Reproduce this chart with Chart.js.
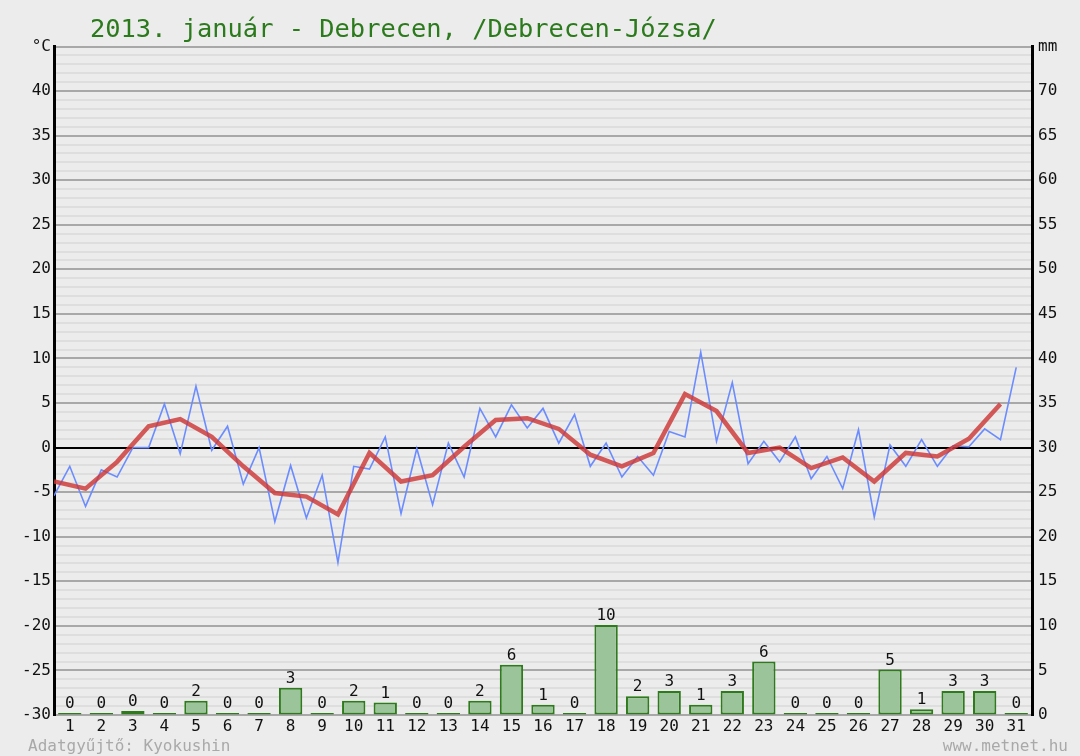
<!DOCTYPE html>
<html>
<head>
<meta charset="utf-8">
<script src="https://cdn.jsdelivr.net/npm/chart.js@4/dist/chart.umd.min.js"></script>
<style>
  html, body { margin:0; padding:0; background:#ececec; }
  #wrap { width:1080px; height:756px; }
</style>
</head>
<body>
<div id="wrap"><canvas id="chart" width="1080" height="756"></canvas></div>
<script>
// ------------- DATA -------------
const TITLE = "2013. január - Debrecen, /Debrecen-Józsa/";
const FOOTER_LEFT = "Adatgyűjtő: Kyokushin";
const FOOTER_RIGHT = "www.metnet.hu";

const dayLabels = ['1','2','3','4','5','6','7','8','9','10','11','12','13','14','15','16',
  '17','18','19','20','21','22','23','24','25','26','27','28','29','30','31'];

// two readings per day (°C)
const tempHalfDay = [-5.4, -2.1, -6.6, -2.5, -3.3, 0.0, 0.0, 4.9, -0.7, 6.9,
  -0.3, 2.4, -4.1, 0.0, -8.3, -2.0, -7.9, -3.1, -12.9, -2.1,
  -2.4, 1.2, -7.4, -0.1, -6.4, 0.5, -3.3, 4.4, 1.2, 4.8,
  2.2, 4.4, 0.5, 3.7, -2.1, 0.5, -3.3, -1.0, -3.1, 1.8,
  1.2, 10.7, 0.7, 7.3, -1.8, 0.7, -1.6, 1.2, -3.5, -1.0,
  -4.6, 2.0, -7.8, 0.3, -2.1, 0.9, -2.1, 0.2, 0.1, 2.1,
  0.9, 9.0];

// daily mean (°C)
const tempMean = [-3.8, -4.6, -1.6, 2.4, 3.2, 1.2, -2.1, -5.1, -5.5, -7.5,
  -0.6, -3.8, -3.1, 0.1, 3.1, 3.3, 2.1, -0.8, -2.1, -0.6,
  6.0, 4.1, -0.6, 0.0, -2.3, -1.1, -3.8, -0.6, -1.0, 1.0, 4.9];

// daily precipitation (mm)
const precip = [0, 0, 0.45, 0, 1.6, 0, 0, 3.05, 0, 1.6, 1.4, 0, 0, 1.6, 5.65, 1.15,
  0, 10.1, 2.1, 2.7, 1.15, 2.7, 6.0, 0, 0, 0, 5.1, 0.65, 2.7, 2.7, 0];

// ------------- STYLE -------------
const MONO = '"DejaVu Sans Mono", "Liberation Mono", monospace';
const BG = '#ececec';

// background + title + footer
const decorPlugin = {
  id: 'decor',
  beforeDraw(chart){
    const ctx = chart.ctx;
    ctx.save();
    ctx.fillStyle = BG;
    ctx.fillRect(0, 0, chart.width, chart.height);
    ctx.restore();
  },
  afterDraw(chart){
    const ctx = chart.ctx;
    ctx.save();
    ctx.textBaseline = 'alphabetic';
    ctx.font = '25.4px ' + MONO;
    ctx.fillStyle = '#2b7a1c';
    ctx.textAlign = 'left';
    ctx.fillText(TITLE, 90, 37);
    ctx.font = '16px ' + MONO;
    ctx.fillStyle = '#a9a9a9';
    ctx.fillText(FOOTER_LEFT, 28, 751);
    ctx.textAlign = 'right';
    ctx.fillText(FOOTER_RIGHT, 1068, 751);
    ctx.restore();
  }
};

// value labels above precipitation bars
const barLabels = {
  id: 'barLabels',
  afterDatasetsDraw(chart){
    const ctx = chart.ctx;
    const meta = chart.getDatasetMeta(0);
    ctx.save();
    ctx.font = '16px ' + MONO;
    ctx.fillStyle = '#111';
    ctx.textAlign = 'center';
    ctx.textBaseline = 'alphabetic';
    meta.data.forEach((bar, i) => {
      ctx.fillText(String(Math.round(precip[i])), bar.x, bar.y - 5);
    });
    ctx.restore();
  }
};

function gridColor(v){
  if (v === 0) return '#000000';
  if (v % 5 === 0) return '#a8a8a8';
  return '#dedede';
}

new Chart(document.getElementById('chart'), {
  type: 'line',
  data: {
    datasets: [
      {
        type: 'bar',
        label: 'mm',
        data: precip.map((v, i) => ({ x: i + 0.5, y: v })),
        yAxisID: 'y2',
        backgroundColor: '#9cc49a',
        borderColor: '#2f7a1c',
        borderWidth: 2,
        borderSkipped: false,
        minBarLength: 2,
        barPercentage: 0.74,
        categoryPercentage: 1,
        order: 3
      },
      {
        label: 'hőmérséklet',
        data: tempHalfDay.map((v, i) => ({ x: i * 0.5, y: v })),
        yAxisID: 'y',
        borderColor: '#6b8cff',
        borderWidth: 1.6,
        pointRadius: 0,
        tension: 0,
        order: 2
      },
      {
        label: 'napi közép',
        data: tempMean.map((v, i) => ({ x: i, y: v })),
        yAxisID: 'y',
        borderColor: 'rgba(205,55,55,0.82)',
        borderWidth: 4.5,
        pointRadius: 0,
        tension: 0,
        order: 1
      }
    ]
  },
  options: {
    responsive: false,
    animation: false,
    layout: { padding: { top: 46.5, left: 0, right: 0, bottom: 0 } },
    plugins: { legend: { display: false }, tooltip: { enabled: false }, title: { display: false } },
    scales: {
      x: {
        type: 'linear',
        min: 0, max: 31,
        offset: false,
        afterBuildTicks: (s) => { s.ticks = dayLabels.map((d, i) => ({ value: i + 0.5 })); },
        afterFit: (s) => { s.height = 41; },
        grid: { display: false, drawTicks: false },
        border: { display: false },
        ticks: {
          autoSkip: false, maxRotation: 0, padding: 2,
          color: '#111', font: { family: MONO, size: 16 },
          callback: (v, i) => dayLabels[i]
        }
      },
      y: {
        position: 'left',
        min: -30, max: 45,
        afterFit: (s) => { s.width = 54; },
        grid: {
          drawTicks: false,
          color: (c) => gridColor(c.tick.value),
          lineWidth: 2
        },
        border: { display: true, color: '#000', width: 3 },
        ticks: {
          stepSize: 1, autoSkip: false, padding: 3,
          color: '#111', font: { family: MONO, size: 16 },
          callback: (v) => v === 45 ? '°C' : (v % 5 === 0 ? String(v) : '')
        }
      },
      y2: {
        position: 'right',
        min: 0, max: 75,
        afterFit: (s) => { s.width = 48; },
        grid: { drawOnChartArea: false, drawTicks: false },
        border: { display: true, color: '#000', width: 3 },
        ticks: {
          stepSize: 5, autoSkip: false, padding: 6,
          color: '#111', font: { family: MONO, size: 16 },
          callback: (v) => v === 75 ? 'mm' : String(v)
        }
      }
    }
  },
  plugins: [decorPlugin, barLabels]
});
</script>
</body>
</html>
